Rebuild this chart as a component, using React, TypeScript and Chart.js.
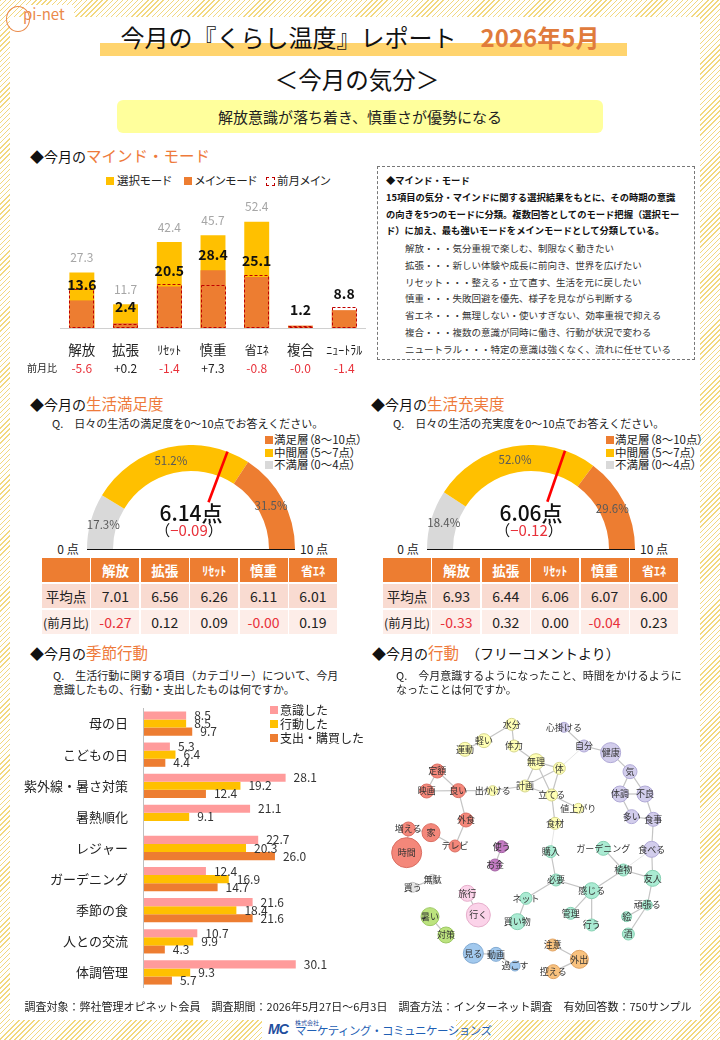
import React, { useEffect, useRef } from "react";
import { Chart, registerables } from "chart.js";
Chart.register(...registerables);

const FONT = '"Noto Sans CJK JP", "Noto Sans", sans-serif';
const ORANGE = "#ED7D31";
const YELLOW = "#FFC000";
const LGRAY = "#D9D9D9";
const PINK = "#FF9B9B";
const RED = "#E8313A";
const TITLE_OR = "#EE7A3B";
const HATCH = "repeating-linear-gradient(135deg, #F2D87E 0px, #F2D87E 1px, #FFFFFF 1px, #FFFFFF 3.6px)";

// ---------- Mind mode data ----------
const modeCategories = ["解放", "拡張", "ﾘｾｯﾄ", "慎重", "省ｴﾈ", "複合", "ﾆｭｰﾄﾗﾙ"];
const modeSelect: (number | null)[] = [27.3, 11.7, 42.4, 45.7, 52.4, null, null];
const modeMain = [13.6, 2.4, 20.5, 28.4, 25.1, 1.2, 8.8];
const modePrev = [19.2, 2.2, 21.9, 21.1, 25.9, 1.2, 10.2];
const modeDiffLabels = ["-5.6", "+0.2", "-1.4", "+7.3", "-0.8", "-0.0", "-1.4"];

// ---------- Gauges ----------
const gaugeLabels = ["不満層（0～4点）", "中間層（5～7点）", "満足層（8～10点）"];
const satShares = [17.3, 51.2, 31.5];
const satScore = 6.14;
const satDiff = "−0.09";
const fulShares = [18.4, 52.0, 29.6];
const fulScore = 6.06;
const fulDiff = "−0.12";
const tableCols = ["解放", "拡張", "ﾘｾｯﾄ", "慎重", "省ｴﾈ"];
const satAvg = ["7.01", "6.56", "6.26", "6.11", "6.01"];
const satAvgDiff = ["-0.27", "0.12", "0.09", "-0.00", "0.19"];
const fulAvg = ["6.93", "6.44", "6.06", "6.07", "6.00"];
const fulAvgDiff = ["-0.33", "0.32", "0.00", "-0.04", "0.23"];

// ---------- Seasonal ----------
const seasonCats = ["母の日", "こどもの日", "紫外線・暑さ対策", "暑熱順化", "レジャー", "ガーデニング", "季節の食", "人との交流", "体調管理"];
const seasonSeries = ["意識した", "行動した", "支出・購買した"];
const seasonAware = [8.5, 5.3, 28.1, 21.1, 22.7, 12.4, 21.6, 10.7, 30.1];
const seasonAct = [8.5, 6.4, 19.2, 9.1, 20.3, 16.9, 18.4, 9.9, 9.3];
const seasonSpend: (number | null)[] = [9.7, 4.4, 12.4, null, 26.0, 14.7, 21.6, 4.3, 5.7];

// ---------- Network ----------
const netLabels = ["水分", "軽い", "体力", "運動", "無理", "体", "計画", "出かける", "立てる", "値上がり", "食材",
  "定額", "映画", "良い", "外食", "増える", "家", "テレビ", "時間",
  "使う", "お金", "無駄", "買う", "旅行", "行く", "暑い", "対策", "見る", "動画", "過ごす", "注意", "外出", "控える",
  "購入", "ガーデニング", "植物", "友人", "必要", "感じる", "ネット", "頑張る", "管理", "絵", "買い物", "行う", "酒",
  "心掛ける", "自分", "健康", "気", "体調", "不良", "多い", "食事", "食べる"];
const netX = [455, 372, 462, 315, 528, 598, 495, 398, 575, 655, 585,
  232, 200, 295, 318, 145, 213, 285, 140,
  425, 405, 218, 158, 322, 355, 210, 258, 340, 408, 465, 578, 658, 580,
  572, 730, 790, 878, 588, 695, 498, 862, 632, 800, 472, 695, 805,
  612, 672, 752, 810, 780, 855, 815, 880, 875];
const netY = [253, 302, 318, 328, 365, 385, 438, 452, 465, 505, 550,
  393, 453, 452, 540, 567, 578, 618, 638,
  620, 675, 718, 742, 760, 825, 830, 885, 940, 943, 978, 915, 958, 995,
  635, 625, 690, 715, 720, 752, 775, 795, 820, 830, 845, 855, 882,
  262, 318, 338, 395, 462, 462, 530, 538, 628];
const netR = [6, 7, 6, 7, 8, 6, 6, 5, 6, 5, 6,
  7, 7, 7, 7, 7, 9, 6, 15,
  6, 6, 5, 5, 8, 12, 9, 8, 10, 7, 5, 6, 9, 7,
  6, 7, 6, 8, 6, 8, 6, 5, 6, 5, 8, 6, 6,
  5, 6, 10, 7, 8, 8, 7, 7, 8];
const netGroup = ["Y", "Y", "Y", "Y", "Y", "Y", "Y", "Y", "Y", "Y", "Y",
  "R", "R", "R", "R", "R", "R", "R", "R",
  "P", "P", "G", "G", "K", "K", "N", "N", "B", "B", "B", "O", "O", "O",
  "T", "T", "T", "T", "T", "T", "T", "T", "T", "T", "T", "T", "T",
  "L", "L", "L", "L", "L", "L", "L", "L", "L"];
const netEdges = [
  ["水分", "軽い"], ["水分", "体力"], ["軽い", "運動"], ["体力", "無理"], ["無理", "体"], ["無理", "計画"], ["無理", "立てる"], ["体", "計画"], ["体", "立てる"], ["計画", "立てる"], ["計画", "出かける"], ["立てる", "値上がり"], ["立てる", "食材"],
  ["出かける", "良い"], ["定額", "映画"], ["定額", "良い"], ["映画", "良い"], ["良い", "外食"], ["外食", "テレビ"], ["家", "テレビ"], ["増える", "家"], ["増える", "時間"],
  ["使う", "お金"], ["無駄", "買う"], ["旅行", "行く"], ["暑い", "対策"], ["見る", "動画"], ["動画", "過ごす"], ["注意", "外出"], ["外出", "控える"],
  ["購入", "必要"], ["必要", "ネット"], ["ネット", "買い物"], ["必要", "感じる"], ["感じる", "植物"], ["植物", "ガーデニング"], ["植物", "友人"], ["感じる", "管理"], ["感じる", "行う"], ["友人", "頑張る"], ["頑張る", "絵"], ["頑張る", "酒"],
  ["心掛ける", "自分"], ["自分", "健康"], ["健康", "気"], ["気", "体調"], ["気", "不良"], ["体調", "不良"], ["体調", "多い"], ["不良", "食事"], ["多い", "食事"], ["食事", "食べる"], ["食べる", "友人"]
];
const netFaintEdges = [["体", "自分"], ["食材", "購入"], ["食べる", "植物"]];
const groupFill: Record<string, string> = {
  Y: "#FFFFB4", R: "#F4877A", P: "#C47CC4", G: "#E4E4E4", K: "#FBD3E9", N: "#BCE37E",
  B: "#A2C9EE", O: "#F9C27E", T: "#AAEBD3", L: "#D2CDEC"
};
const groupBorder: Record<string, string> = {
  Y: "#D6D68E", R: "#DA6E62", P: "#A262A2", G: "#C4C4C4", K: "#E6AECB", N: "#9CC862",
  B: "#82AAD2", O: "#DFA262", T: "#86D0B2", L: "#B0A9D6"
};

// ---------- Helpers ----------
function T(props: any) {
  const { x, y, s = 12, a = "left", c = "#222", w = 400, children, style } = props;
  const tx = a === "center" ? "translateX(-50%)" : a === "right" ? "translateX(-100%)" : "none";
  return (
    <div style={{
      position: "absolute", left: x, top: y - s * 0.75, height: s * 1.5, lineHeight: `${s * 1.5}px`,
      fontSize: s, color: c, fontWeight: w, whiteSpace: "nowrap", transform: tx, ...style
    }}>{children}</div>
  );
}

function SectionTitle({ x, y, colored, rest }: any) {
  return (
    <div style={{ position: "absolute", left: x, top: y - 11, height: 22, lineHeight: "22px", whiteSpace: "nowrap", color: "#111" }}>
      <span style={{ fontSize: 14 }}>◆今月の</span>
      <span style={{ fontSize: 15.5, color: TITLE_OR }}>{colored}</span>
      {rest ? <span style={{ fontSize: 14 }}>{rest}</span> : null}
    </div>
  );
}

const PALT = { fontFeatureSettings: '"palt"' };

// ---------- Mind mode chart ----------
function MindModeChart() {
  const ref = useRef<HTMLCanvasElement>(null);
  useEffect(() => {
    const plugin = {
      id: "mindLabels",
      afterDatasetsDraw(chart: any) {
        const ctx = chart.ctx;
        const { left, right, bottom } = chart.chartArea;
        const selMeta = chart.getDatasetMeta(0);
        const mainMeta = chart.getDatasetMeta(1);
        const prevMeta = chart.getDatasetMeta(2);
        ctx.save();
        ctx.strokeStyle = "#D0D0D0";
        ctx.lineWidth = 1;
        ctx.beginPath();
        ctx.moveTo(left, bottom + 0.5);
        ctx.lineTo(right, bottom + 0.5);
        ctx.stroke();
        prevMeta.data.forEach((el: any) => {
          ctx.setLineDash([3, 2]);
          ctx.strokeStyle = "#C00000";
          ctx.lineWidth = 1;
          ctx.strokeRect(Math.round(el.x - el.width / 2) + 0.5, Math.round(el.y) + 0.5, Math.round(el.width) - 1, Math.round(el.base - el.y) - 1);
        });
        ctx.setLineDash([]);
        ctx.textAlign = "center";
        ctx.textBaseline = "middle";
        ctx.font = `12px ${FONT}`;
        ctx.fillStyle = "#A6A6A6";
        selMeta.data.forEach((el: any, i: number) => {
          const v = modeSelect[i];
          if (v == null) return;
          ctx.fillText(v.toFixed(1), el.x, el.y - 15);
        });
        ctx.font = `bold 14px ${FONT}`;
        ctx.fillStyle = "#111";
        mainMeta.data.forEach((el: any, i: number) => {
          ctx.fillText(modeMain[i].toFixed(1), el.x, el.y - 16);
        });
        mainMeta.data.forEach((el: any, i: number) => {
          const lab = modeCategories[i];
          ctx.font = `${/[ｦ-ﾟ]/.test(lab) ? 12 : 13.5}px ${FONT}`;
          ctx.fillStyle = "#222";
          ctx.fillText(lab, el.x, 160);
          const d = modeDiffLabels[i];
          ctx.font = `12px ${FONT}`;
          ctx.fillStyle = d.startsWith("-") ? RED : "#222";
          ctx.fillText(d, el.x, 178);
        });
        ctx.font = `10px ${FONT}`;
        ctx.fillStyle = "#222";
        ctx.fillText("前月比", 22, 178);
        ctx.restore();
      }
    };
    const chart = new Chart(ref.current!, {
      type: "bar",
      data: {
        labels: modeCategories,
        datasets: [
          { label: "選択モード", data: modeSelect, backgroundColor: YELLOW, order: 3, grouped: false, barPercentage: 0.57, categoryPercentage: 1 } as any,
          { label: "メインモード", data: modeMain, backgroundColor: ORANGE, order: 2, grouped: false, barPercentage: 0.57, categoryPercentage: 1 } as any,
          { label: "前月メイン", data: modePrev, backgroundColor: "rgba(0,0,0,0)", order: 1, grouped: false, barPercentage: 0.57, categoryPercentage: 1 } as any,
        ]
      },
      options: {
        animation: false,
        responsive: false,
        layout: { padding: { left: 40, right: 4, top: 0, bottom: 52 } },
        plugins: { legend: { display: false }, tooltip: { enabled: false } },
        scales: {
          x: { display: false },
          y: { display: false, min: 0, max: 68 }
        }
      },
      plugins: [plugin]
    });
    return () => chart.destroy();
  }, []);
  return <canvas ref={ref} width={350} height={190} style={{ position: "absolute", left: 20, top: 190 }} />;
}

// ---------- Gauge ----------
function Gauge({ left, top, shares, score }: any) {
  const ref = useRef<HTMLCanvasElement>(null);
  useEffect(() => {
    const plugin = {
      id: "gaugeExtras",
      afterDatasetsDraw(chart: any) {
        const ctx = chart.ctx;
        const meta = chart.getDatasetMeta(0);
        ctx.save();
        ctx.font = `11.5px ${FONT}`;
        ctx.fillStyle = "#595959";
        ctx.textAlign = "center";
        ctx.textBaseline = "middle";
        meta.data.forEach((arc: any, i: number) => {
          const p = arc.tooltipPosition();
          ctx.fillText(shares[i].toFixed(1) + "%", p.x, p.y);
        });
        const a0: any = meta.data[0];
        const ang = Math.PI + (score / 10) * Math.PI;
        const r1 = 50, r2 = a0.outerRadius;
        ctx.strokeStyle = "#FF0000";
        ctx.lineWidth = 2.6;
        ctx.beginPath();
        ctx.moveTo(a0.x + Math.cos(ang) * r1, a0.y + Math.sin(ang) * r1);
        ctx.lineTo(a0.x + Math.cos(ang) * r2, a0.y + Math.sin(ang) * r2);
        ctx.stroke();
        ctx.restore();
      }
    };
    const chart = new Chart(ref.current!, {
      type: "doughnut",
      data: {
        labels: gaugeLabels,
        datasets: [{ data: shares, backgroundColor: [LGRAY, YELLOW, ORANGE], borderWidth: 0 }]
      },
      options: {
        animation: false,
        responsive: false,
        rotation: -90,
        circumference: 180,
        cutout: "75%",
        layout: { padding: 0 },
        plugins: { legend: { display: false }, tooltip: { enabled: false } }
      },
      plugins: [plugin]
    });
    return () => chart.destroy();
  }, []);
  return <canvas ref={ref} width={208} height={104} style={{ position: "absolute", left, top }} />;
}

function GaugeBlock({ dx, title, q, shares, score, diff, avg, avgDiff, cx }: any) {
  const gl = cx - 104;
  const legendItems = [
    { c: ORANGE, t: "満足層（8～10点）" },
    { c: YELLOW, t: "中間層（5～7点）" },
    { c: LGRAY, t: "不満層（0～4点）" },
  ];
  return (
    <>
      <SectionTitle x={30 + dx} y={403} colored={title} />
      <T x={52 + dx} y={423} s={11}>{q}</T>
      {legendItems.map((it, i) => (
        <React.Fragment key={i}>
          <div style={{ position: "absolute", left: 265 + dx, top: 436 + i * 12.5, width: 8, height: 8, background: it.c }} />
          <T x={274 + dx} y={440 + i * 12.5} s={11.5} c="#222" style={PALT}>{it.t}</T>
        </React.Fragment>
      ))}
      <Gauge left={gl} top={445} shares={shares} score={score} />
      <div style={{ position: "absolute", left: gl, top: 548.5, width: 208, height: 1.5, background: "#111" }} />
      <T x={gl - 19} y={549} s={12} a="center">0 点</T>
      <T x={gl + 208 + 19} y={549} s={12} a="center">10 点</T>
      <T x={cx} y={513} s={21} a="center" w={500} c="#111">{score.toFixed(2)}点</T>
      <T x={cx - 2} y={530} s={15} a="center" c="#111">（<span style={{ color: RED }}>{diff}</span>）</T>
      <ScoreTable x={42 + dx} y={558} avg={avg} diff={avgDiff} />
    </>
  );
}

function ScoreTable({ x, y, avg, diff }: any) {
  const cell = (content: any, bg: string, color: string, size: number, bold = false, key?: any) => (
    <div key={key} style={{
      background: bg, color, fontSize: size, fontWeight: bold ? 700 : 400, display: "flex",
      alignItems: "center", justifyContent: "center", whiteSpace: "nowrap"
    }}>{content}</div>
  );
  return (
    <div style={{
      position: "absolute", left: x, top: y, width: 295, display: "grid",
      gridTemplateColumns: "repeat(6, 48px)", gridTemplateRows: "24px 24px 24px", columnGap: 1.4, rowGap: 2
    }}>
      {cell("", ORANGE, "#fff", 13, true, "h0")}
      {tableCols.map((c, i) => cell(c, ORANGE, "#fff", /[ｦ-ﾟ]/.test(c) ? 12 : 13.5, true, "h" + (i + 1)))}
      {cell("平均点", "#F9DBD1", "#222", 13.5, false, "a0")}
      {avg.map((v: string, i: number) => cell(v, "#F9DBD1", "#222", 14, false, "a" + (i + 1)))}
      {cell("(前月比)", "#FDEDE8", "#222", 12.5, false, "d0")}
      {diff.map((v: string, i: number) => cell(v, "#FDEDE8", v.startsWith("-") ? RED : "#222", 14, false, "d" + (i + 1)))}
    </div>
  );
}

// ---------- Seasonal chart ----------
function SeasonChart() {
  const ref = useRef<HTMLCanvasElement>(null);
  useEffect(() => {
    const plugin = {
      id: "seasonLabels",
      afterDatasetsDraw(chart: any) {
        const ctx = chart.ctx;
        const { left, top, bottom } = chart.chartArea;
        ctx.save();
        ctx.strokeStyle = "#BFBFBF";
        ctx.lineWidth = 1;
        ctx.beginPath();
        ctx.moveTo(left + 0.5, top - 1);
        ctx.lineTo(left + 0.5, bottom);
        ctx.stroke();
        ctx.textBaseline = "middle";
        ctx.textAlign = "right";
        ctx.font = `13px ${FONT}`;
        ctx.fillStyle = "#222";
        const yScale = chart.scales.y;
        seasonCats.forEach((c, i) => ctx.fillText(c, left - 15, yScale.getPixelForValue(i)));
        ctx.textAlign = "left";
        ctx.font = `12px ${FONT}`;
        ctx.fillStyle = "#333";
        const all = [seasonAware, seasonAct, seasonSpend];
        all.forEach((arr, d) => {
          const meta = chart.getDatasetMeta(d);
          meta.data.forEach((el: any, i: number) => {
            const v = arr[i];
            if (v == null) return;
            ctx.fillText(v.toFixed(1), el.x + 8, el.y);
          });
        });
        ctx.restore();
      }
    };
    const chart = new Chart(ref.current!, {
      type: "bar",
      data: {
        labels: seasonCats,
        datasets: [
          { label: seasonSeries[0], data: seasonAware, backgroundColor: PINK, categoryPercentage: 0.78, barPercentage: 1 },
          { label: seasonSeries[1], data: seasonAct, backgroundColor: YELLOW, categoryPercentage: 0.78, barPercentage: 1 },
          { label: seasonSeries[2], data: seasonSpend, backgroundColor: ORANGE, categoryPercentage: 0.78, barPercentage: 1 },
        ]
      },
      options: {
        indexAxis: "y",
        animation: false,
        responsive: false,
        layout: { padding: { left: 123, right: 14, top: 0, bottom: 0 } },
        plugins: { legend: { display: false }, tooltip: { enabled: false } },
        scales: {
          x: { display: false, min: 0, max: 40 },
          y: { display: false }
        }
      },
      plugins: [plugin]
    });
    return () => chart.destroy();
  }, []);
  return <canvas ref={ref} width={340} height={280} style={{ position: "absolute", left: 20, top: 708 }} />;
}

// ---------- Network chart ----------
function NetworkChart() {
  const ref = useRef<HTMLCanvasElement>(null);
  useEffect(() => {
    const idx = (name: string) => netLabels.indexOf(name);
    const plugin = {
      id: "netEdges",
      beforeDatasetsDraw(chart: any) {
        const ctx = chart.ctx;
        const pts = chart.getDatasetMeta(0).data;
        ctx.save();
        const drawEdges = (list: string[][], color: string, w: number) => {
          ctx.strokeStyle = color;
          ctx.lineWidth = w;
          list.forEach(([a, b]) => {
            const p = pts[idx(a)], q = pts[idx(b)];
            if (!p || !q) return;
            ctx.beginPath();
            ctx.moveTo(p.x, p.y);
            ctx.lineTo(q.x, q.y);
            ctx.stroke();
          });
        };
        drawEdges(netFaintEdges, "#E6E6E6", 1);
        drawEdges(netEdges, "#C4C4C4", 1.2);
        ctx.restore();
      },
      afterDatasetsDraw(chart: any) {
        const ctx = chart.ctx;
        const pts = chart.getDatasetMeta(0).data;
        ctx.save();
        ctx.font = `9px ${FONT}`;
        ctx.fillStyle = "#333";
        ctx.textAlign = "center";
        ctx.textBaseline = "middle";
        pts.forEach((p: any, i: number) => ctx.fillText(netLabels[i], p.x, p.y));
        ctx.restore();
      }
    };
    const chart = new Chart(ref.current!, {
      type: "bubble",
      data: {
        datasets: [{
          data: netX.map((x, i) => ({ x, y: netY[i], r: netR[i] })),
          backgroundColor: netGroup.map((g) => groupFill[g]),
          borderColor: netGroup.map((g) => groupBorder[g]),
          borderWidth: 1,
          clip: false
        } as any]
      },
      options: {
        animation: false,
        responsive: false,
        layout: { padding: 0, autoPadding: false },
        plugins: { legend: { display: false }, tooltip: { enabled: false } },
        scales: {
          x: { display: false, min: 0, max: 1050 },
          y: { display: false, min: 0, max: 1080, reverse: true }
        }
      },
      plugins: [plugin]
    });
    return () => chart.destroy();
  }, []);
  return <canvas ref={ref} width={350} height={360} style={{ position: "absolute", left: 360, top: 640 }} />;
}

// ---------- App ----------
const boxLinesBold = [
  "◆マインド・モード",
  "15項目の気分・マインドに関する選択結果をもとに、その時期の意識",
  "の向きを5つのモードに分類。複数回答としてのモード把握（選択モー",
  "ド）に加え、最も強いモードをメインモードとして分類している。",
];
const boxLinesNormal = [
  "解放・・・気分重視で楽しむ、制限なく動きたい",
  "拡張・・・新しい体験や成長に前向き、世界を広げたい",
  "リセット・・・整える・立て直す、生活を元に戻したい",
  "慎重・・・失敗回避を優先、様子を見ながら判断する",
  "省エネ・・・無理しない・使いすぎない、効率重視で抑える",
  "複合・・・複数の意識が同時に働き、行動が状況で変わる",
  "ニュートラル・・・特定の意識は強くなく、流れに任せている",
];

export default function App() {
  return (
    <div style={{
      position: "fixed", left: 0, top: 0, width: 720, height: 1040, overflow: "hidden",
      fontFamily: FONT, color: "#222", background: HATCH
    }}>
      <div style={{ position: "absolute", left: 10, top: 17, width: 690, height: 1003, background: "#fff" }} />

      {/* logo */}
      <div style={{ position: "absolute", left: 24, top: 5, width: 50, height: 19, background: "#fff" }} />
      <div style={{ position: "absolute", left: 6, top: 6, width: 22, height: 24, borderRadius: "50%", border: "1.5px solid #EA8A4A" }} />
      <T x={23} y={14} s={15} c="#EA8A4A">pi-net</T>

      {/* header */}
      <div style={{ position: "absolute", left: 100, top: 43, width: 527, height: 13, background: "#FFD46E" }} />
      <T x={360} y={37} s={24} a="center" c="#111">
        今月の『くらし温度』レポート　<span style={{ color: "#E07B3C", fontWeight: 700 }}>2026年5月</span>
      </T>
      <T x={357} y={80} s={23.5} a="center" c="#111">＜今月の気分＞</T>
      <div style={{
        position: "absolute", left: 117, top: 100, width: 486, height: 33, background: "#FFFF9C", borderRadius: 6,
        display: "flex", alignItems: "center", justifyContent: "center", fontSize: 15, color: "#222"
      }}>解放意識が落ち着き、慎重さが優勢になる</div>

      {/* Mind mode */}
      <SectionTitle x={30} y={155} colored="マインド・モード" />
      <div style={{ position: "absolute", left: 106, top: 177, width: 8, height: 8, background: YELLOW }} />
      <T x={117} y={181} s={11.5} style={PALT}>選択モード</T>
      <div style={{ position: "absolute", left: 184, top: 177, width: 8, height: 8, background: ORANGE }} />
      <T x={195} y={181} s={11.5} style={PALT}>メインモード</T>
      <div style={{ position: "absolute", left: 266, top: 177, width: 7, height: 7, border: "1px dashed #C00000" }} />
      <T x={277} y={181} s={11.5} style={PALT}>前月メイン</T>
      <MindModeChart />

      <div style={{ position: "absolute", left: 377, top: 166, width: 318, height: 194, border: "1px dashed #777", boxSizing: "border-box" }} />
      {boxLinesBold.map((l, i) => (
        <T key={"b" + i} x={386} y={181 + i * 16.8} s={9.3} w={700} c="#111">{l}</T>
      ))}
      {boxLinesNormal.map((l, i) => (
        <T key={"n" + i} x={405} y={181 + (i + 4) * 16.8} s={9.5} c="#333">{l}</T>
      ))}

      {/* Gauges */}
      <GaugeBlock dx={0} cx={191} title="生活満足度" q="Q.　日々の生活の満足度を0～10点でお答えください。"
        shares={satShares} score={satScore} diff={satDiff} avg={satAvg} avgDiff={satAvgDiff} />
      <GaugeBlock dx={341} cx={531} title="生活充実度" q="Q.　日々の生活の充実度を0～10点でお答えください。"
        shares={fulShares} score={fulScore} diff={fulDiff} avg={fulAvg} avgDiff={fulAvgDiff} />

      {/* Seasonal */}
      <SectionTitle x={30} y={652} colored="季節行動" />
      <T x={53} y={675} s={11}>Q.　生活行動に関する項目（カテゴリー）について、今月</T>
      <T x={53} y={689} s={11}>意識したもの、行動・支出したものは何ですか。</T>
      <SeasonChart />
      {[PINK, YELLOW, ORANGE].map((c, i) => (
        <React.Fragment key={i}>
          <div style={{ position: "absolute", left: 270, top: 706 + i * 14, width: 8, height: 8, background: c }} />
          <T x={280} y={710 + i * 14} s={12}>{seasonSeries[i]}</T>
        </React.Fragment>
      ))}

      {/* Network */}
      <SectionTitle x={372} y={652} colored="行動" rest="　（フリーコメントより）" />
      <T x={396} y={675} s={11}>Q.　今月意識するようになったこと、時間をかけるように</T>
      <T x={396} y={689} s={11}>なったことは何ですか。</T>
      <NetworkChart />

      {/* Footer */}
      <T x={358} y={1006} s={11} a="center" c="#222">
        調査対象：弊社管理オピネット会員　調査期間：2026年5月27日～6月3日　調査方法：インターネット調査　有効回答数：750サンプル
      </T>
      <div style={{ position: "absolute", left: 262, top: 1019, width: 194, height: 21, background: "#fff" }} />
      <div style={{
        position: "absolute", left: 268, top: 1021, width: 22, height: 16, background: "#fff",
        color: "#1F4E9E", fontWeight: 900, fontSize: 14, lineHeight: "16px", fontStyle: "italic", letterSpacing: -1,
        fontFamily: '"Liberation Sans", Arial, sans-serif'
      }}>MC</div>
      <T x={295} y={1022} s={6} c="#1F4E9E">株式会社</T>
      <T x={295} y={1031} s={11.5} c="#1F5FB5" style={{ letterSpacing: -0.5 }}>マーケティング・コミュニケーションズ</T>
    </div>
  );
}
